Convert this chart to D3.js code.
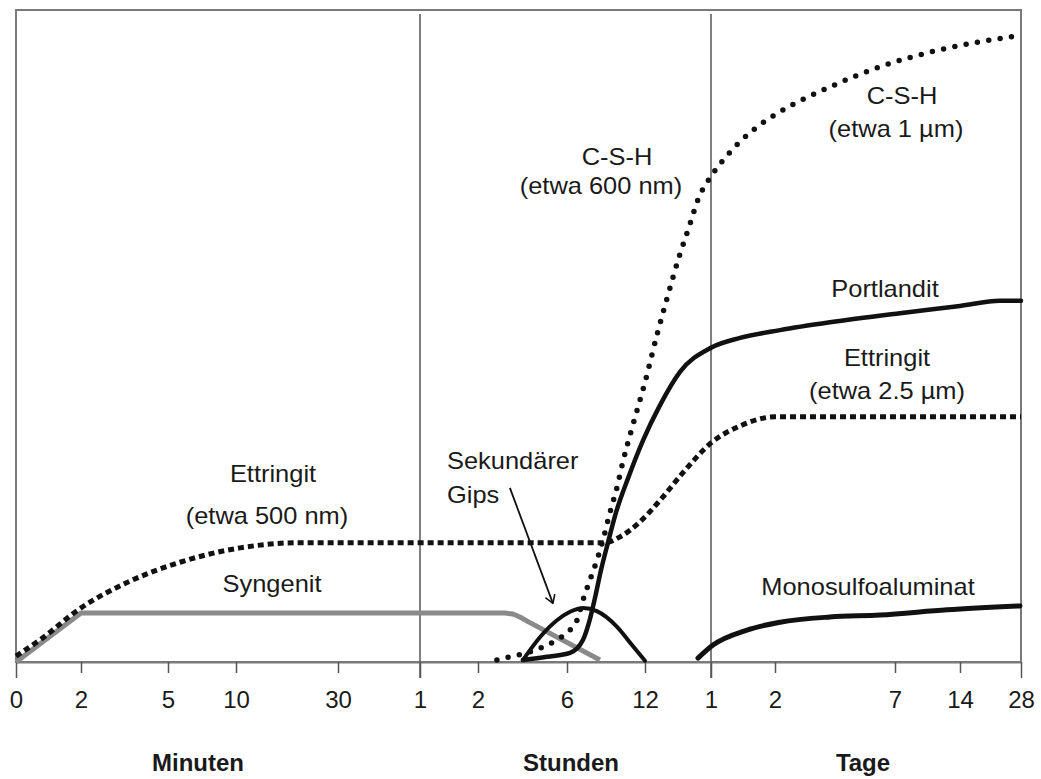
<!DOCTYPE html>
<html>
<head>
<meta charset="utf-8">
<script src="https://cdn.jsdelivr.net/npm/d3@7"></script>
<style>
  body { margin: 0; background: #fff; }
  text { font-family: "Liberation Sans", Arial, sans-serif; fill: #1a1a1a; }
</style>
</head>
<body>
<div id="my_dataviz"></div>
<script>

// time axis, in minutes after mixing
var tickMinutes = [0, 2, 5, 10, 30, 60, 120, 360, 720, 1440, 2880, 10080, 20160, 40320];
var tickLabels  = ["0", "2", "5", "10", "30", "1", "2", "6", "12", "1", "2", "7", "14", "28"];
var unitLabels  = ["Minuten", "Stunden", "Tage"];

// series: [minutes, relative amount 0..100]
var ettringit = [[0, 0.9], [0.74, 3.4], [2, 8.3], [3.69, 12.4], [5.88, 15.3], [10.8, 17.5], [22.5, 18.3],
  [535, 18.3], [605, 19.2], [697, 21.5], [884, 24.8], [1156, 29.4], [1440, 33.6],
  [2093, 36.2], [2880, 37.6], [40320, 37.6]];
var syngenit = [[0, 0], [2, 7.5], [193, 7.5], [214, 7.36], [233, 6.9], [255, 6.2], [512, 0.3]];
var csh = [[171, 0.3], [206, 0.8], [252, 1.4], [287, 2.1], [333, 3.4], [374, 4.9], [406, 6.4], [434, 9.5],
  [466, 12.6], [498, 15.6], [526, 18.7], [558, 22.9], [591, 26.8], [618, 30.7], [660, 35.9], [720, 42.9],
  [851, 50.2], [971, 56.3], [1091, 62.1], [1200, 66.7], [1298, 70.9], [1440, 74.5], [1755, 77.3],
  [2093, 79.8], [2543, 82.4], [3180, 84.4], [6180, 88.2], [9180, 91.3], [17058, 93.9], [38337, 96.0]];
var portlandit = [[241, 0.3], [306, 0.8], [374, 1.4], [434, 3.4], [462, 6.1], [489, 9.8], [517, 14.1],
  [549, 18.3], [586, 22.9], [642, 28.2], [711, 34.0], [884, 39.4], [1102, 44.5], [1440, 48.2],
  [2093, 49.7], [3180, 50.9], [6180, 52.1], [10855, 53.5], [20160, 54.6], [33380, 55.4], [40320, 55.4]];
var gips = [[241, 0.3], [287, 3.8], [333, 6.4], [374, 7.7], [434, 8.3], [498, 7.8], [591, 5.4], [660, 2.6], [720, 0.2]];
var monosulfo = [[1298, 0.6], [1485, 2.6], [2250, 4.9], [3180, 6.1], [6180, 6.9], [9180, 7.2], [18144, 8.0], [39990, 8.6]];

// arrow for "Sekundärer Gips": from / to in data units
var gipsArrow = [[206, 26.7], [322, 9.0]];

var svg = d3.select("#my_dataviz")
  .append("svg")
    .attr("width", 1041)
    .attr("height", 779);

// piecewise time axis: every tick gets its own spot
var x = d3.scaleLinear()
  .domain(tickMinutes)
  .range([16, 81, 168, 236, 338, 420, 478, 567, 645, 711, 775, 895, 960, 1021]);
var y = d3.scaleLinear()
  .domain([0, 100])
  .range([662, 10]);

// frame
svg.append("rect")
  .attr("x", x(0))
  .attr("y", y(100))
  .attr("width", x(40320) - x(0))
  .attr("height", y(0) - y(100))
  .attr("fill", "none")
  .attr("stroke", "#7a7a7a")
  .attr("stroke-width", 2);

// unit dividers
svg.selectAll("divider")
  .data([60, 1440])
  .enter()
  .append("line")
    .attr("x1", function(d) { return x(d); })
    .attr("x2", function(d) { return x(d); })
    .attr("y1", 14)
    .attr("y2", y(0) + 16)
    .attr("stroke", "#555")
    .attr("stroke-width", 1.5);

// X axis
var xAxis = svg.append("g")
  .attr("transform", "translate(0," + y(0) + ")")
  .call(d3.axisBottom(x)
    .tickValues(tickMinutes)
    .tickFormat(function(d, i) { return tickLabels[i]; })
    .tickSize(11)
    .tickSizeOuter(0)
    .tickPadding(18));
xAxis.attr("font-size", 24).attr("font-family", null);
xAxis.select(".domain").attr("stroke", "#7a7a7a").attr("stroke-width", 2);
xAxis.selectAll(".tick line")
  .attr("stroke", "#555")
  .attr("stroke-width", 1.5)
  .attr("y2", function(d) { return (d === 0 || d === 60 || d === 1440 || d === 40320) ? 16 : 11; });
xAxis.selectAll(".tick text").attr("fill", "#1a1a1a");

// unit labels
svg.selectAll("units")
  .data(unitLabels)
  .enter()
  .append("text")
    .attr("x", function(d, i) { return [198, 571, 863][i]; })
    .attr("y", 771)
    .attr("text-anchor", "middle")
    .attr("font-size", 24)
    .attr("font-weight", "bold")
    .text(function(d) { return d; });

// curves
var line = d3.line()
  .x(function(d) { return x(d[0]); })
  .y(function(d) { return y(d[1]); })
  .curve(d3.curveMonotoneX);

svg.append("path")
  .datum(syngenit)
  .attr("d", line.curve(d3.curveLinear))
  .attr("fill", "none")
  .attr("stroke", "#8a8a8a")
  .attr("stroke-width", 5)
  .attr("stroke-linejoin", "round");
line.curve(d3.curveMonotoneX);

svg.append("path")
  .datum(ettringit)
  .attr("d", line)
  .attr("fill", "none")
  .attr("stroke", "#111")
  .attr("stroke-width", 5)
  .attr("stroke-dasharray", "6 4");

svg.append("path")
  .datum(csh)
  .attr("d", line)
  .attr("fill", "none")
  .attr("stroke", "#111")
  .attr("stroke-width", 5.5)
  .attr("stroke-linecap", "round")
  .attr("stroke-dasharray", "0 11.5");

svg.append("path")
  .datum(gips)
  .attr("d", line)
  .attr("fill", "none")
  .attr("stroke", "#111")
  .attr("stroke-width", 4)
  .attr("stroke-linecap", "round");

svg.append("path")
  .datum(portlandit)
  .attr("d", line)
  .attr("fill", "none")
  .attr("stroke", "#111")
  .attr("stroke-width", 4.5)
  .attr("stroke-linecap", "round");

svg.append("path")
  .datum(monosulfo)
  .attr("d", line)
  .attr("fill", "none")
  .attr("stroke", "#111")
  .attr("stroke-width", 5)
  .attr("stroke-linecap", "round");

// arrow
svg.append("defs").append("marker")
  .attr("id", "arrow")
  .attr("viewBox", "0 -6 10 12")
  .attr("refX", 9)
  .attr("refY", 0)
  .attr("markerWidth", 10)
  .attr("markerHeight", 12)
  .attr("markerUnits", "userSpaceOnUse")
  .attr("orient", "auto")
  .append("path")
    .attr("d", "M1,-5 L9,0 L1,5")
    .attr("fill", "none")
    .attr("stroke", "#111")
    .attr("stroke-width", 1.6);

svg.append("line")
  .attr("x1", x(gipsArrow[0][0]))
  .attr("y1", y(gipsArrow[0][1]))
  .attr("x2", x(gipsArrow[1][0]))
  .attr("y2", y(gipsArrow[1][1]))
  .attr("stroke", "#111")
  .attr("stroke-width", 1.8)
  .attr("marker-end", "url(#arrow)");

// annotations
var notes = [
  ["C-S-H", 902, 104, "middle"],
  ["(etwa 1 µm)", 896, 137, "middle"],
  ["C-S-H", 617, 165, "middle"],
  ["(etwa 600 nm)", 601, 194, "middle"],
  ["Portlandit", 885, 297, "middle"],
  ["Ettringit", 887, 366, "middle"],
  ["(etwa 2.5 µm)", 887, 399, "middle"],
  ["Ettringit", 273, 482, "middle"],
  ["(etwa 500 nm)", 267, 524, "middle"],
  ["Syngenit", 272, 592, "middle"],
  ["Sekundärer", 447, 469, "start"],
  ["Gips", 447, 503, "start"],
  ["Monosulfoaluminat", 868, 595, "middle"]
];
svg.selectAll("notes")
  .data(notes)
  .enter()
  .append("text")
    .attr("transform", function(d) { return "translate(" + d[1] + "," + d[2] + ") scale(1.06,1)"; })
    .attr("text-anchor", function(d) { return d[3]; })
    .attr("font-size", 24)
    .text(function(d) { return d[0]; });

</script>
</body>
</html>
